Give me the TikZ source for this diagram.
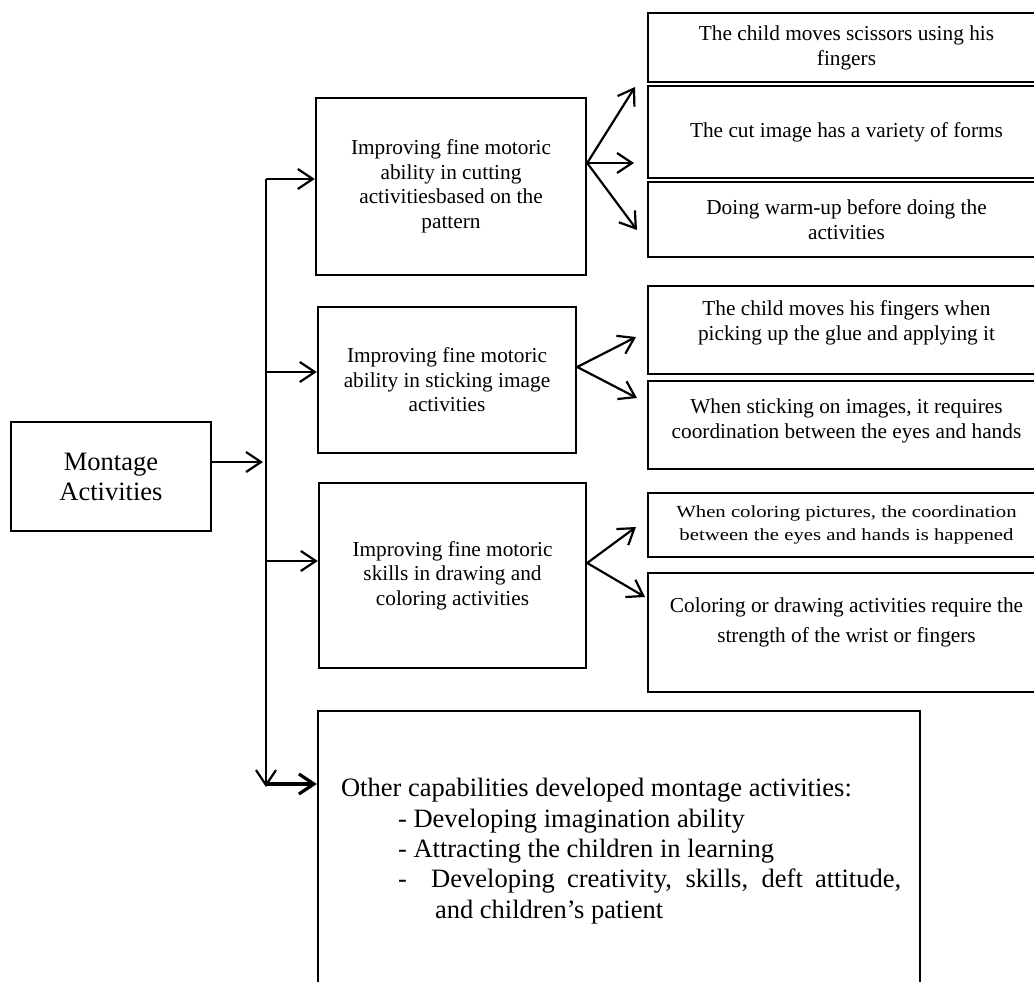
\documentclass[tikz,border=0pt]{standalone}
\usepackage{fontspec}
\setmainfont{Liberation Serif}
\newfontfamily\widefont[FakeStretch=1.22]{Liberation Serif}
\usetikzlibrary{arrows.meta}

\tikzset{
  box/.style={draw, line width=2.4pt, align=center, inner sep=0pt},
  midbox/.style={box, font=\fontsize{21.3}{24.5}\selectfont},
  sidebox/.style={box, minimum width=397pt, font=\fontsize{21.3}{25}\selectfont},
}

\begin{document}
\begin{tikzpicture}[x=1pt, y=-1pt, line width=2.2pt, >={Straight Barb[length=15pt,width=20pt]}]
\useasboundingbox (0,0) rectangle (1034,982);
\clip (0,0) rectangle (1034,982);

% root
\node[box, minimum width=200pt, minimum height=109pt, font=\fontsize{26.5}{30}\selectfont] (montage) at (111,476.5) {Montage\\Activities};

% middle column
\node[midbox, minimum width=270pt, minimum height=177pt] (cutting) at (451,186.5) {Improving fine motoric\\ability in cutting\\activitiesbased on the\\pattern};
\node[midbox, minimum width=258pt, minimum height=146pt] (sticking) at (447,380) {Improving fine motoric\\ability in sticking image\\activities};
\node[midbox, minimum width=267pt, minimum height=185pt] (coloring) at (452.5,575.5) {Improving fine motoric\\skills in drawing and\\coloring activities};
\node[box, minimum width=602pt, minimum height=300pt] (others) at (619,861) {};
\node[anchor=base west, align=left, inner sep=0pt, font=\fontsize{26.5}{30.3}\selectfont] (otherstext) at (340,918) {Other capabilities developed montage activities:\\
\hspace*{57pt}- Developing imagination ability\\
\hspace*{57pt}- Attracting the children in learning\\
\hspace*{57pt}\makebox[503pt][s]{-\ \ Developing creativity, skills, deft attitude,}\\
\hspace*{94pt}and children's patient};

% right column
\node[sidebox, minimum height=69pt] (scissors) at (846.5,47.5) {The child moves scissors using his\\fingers};
\node[sidebox, minimum height=92pt] (forms) at (846.5,132) {The cut image has a variety of forms};
\node[sidebox, minimum height=75pt] (warmup) at (846.5,219.5) {Doing warm-up before doing the\\activities};
\node[sidebox, minimum height=88pt] (glue) at (846.5,330) {The child moves his fingers when\\picking up the glue and applying it\\[-6pt]\mbox{}};
\node[sidebox, minimum height=88pt] (eyes) at (846.5,425) {When sticking on images, it requires\\coordination between the eyes and hands\\[-13pt]\mbox{}};
\node[sidebox, minimum height=64pt, font=\widefont\fontsize{17}{23}\selectfont] (happened) at (846.5,525) {When coloring pictures, the coordination\\between the eyes and hands is happened};
\node[sidebox, minimum height=119pt, font=\fontsize{21.3}{30}\selectfont] (wrist) at (846.5,632.5) {Coloring or drawing activities require the\\strength of the wrist or fingers\\[-6pt]\mbox{}};

% bus
\coordinate (hub) at (263,462);
\coordinate (bustop) at (266,179);
\coordinate (b2) at (266,372);
\coordinate (b3) at (266,561);
\coordinate (b4) at (266,784);
\coordinate (busend) at (266,787);
\draw[->] (montage.east |- hub) -- (hub);
\draw[->] (bustop) -- (busend);
\draw[->] (bustop) -- (bustop -| cutting.west);
\draw[->] (b2) -- (b2 -| sticking.west);
\draw[->] (b3) -- (b3 -| coloring.west);
\draw[->, line width=3.2pt] (b4) -- (b4 -| others.west);

% forks
\coordinate (cutfork) at ([yshift=23.5pt]cutting.east);
\coordinate (t1) at (635,87);
\coordinate (t2) at (634,163);
\coordinate (t3) at (637,230);
\draw[->] (cutfork) -- (t1);
\draw[->] (cutfork) -- (t2);
\draw[->] (cutfork) -- (t3);

\coordinate (stickfork) at ([yshift=13pt]sticking.east);
\coordinate (t4) at (636,337);
\coordinate (t5) at (637,398);
\draw[->] (stickfork) -- (t4);
\draw[->] (stickfork) -- (t5);

\coordinate (colorfork) at ([yshift=12.5pt]coloring.east);
\coordinate (t6) at (636,527);
\coordinate (t7) at (645,597);
\draw[->] (colorfork) -- (t6);
\draw[->] (colorfork) -- (t7);
\end{tikzpicture}
\end{document}
